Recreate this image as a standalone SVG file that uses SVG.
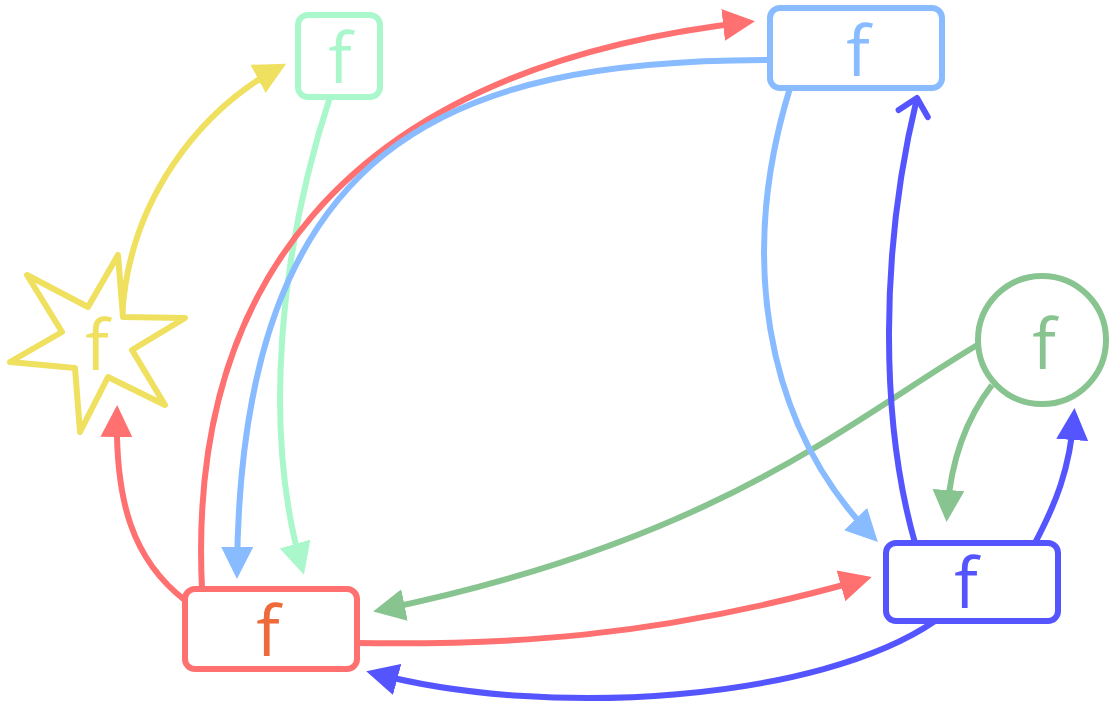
<svg xmlns="http://www.w3.org/2000/svg" width="1112" height="717" viewBox="0 0 1112 717">
<style>
.node{fill:#fff;stroke-width:6}
.lbl{font-family:"Open Sans","Noto Sans",sans-serif;font-size:70px;text-anchor:middle}
.c{fill:none;stroke-width:6}
</style>
<defs>
<marker id="aRed" markerUnits="userSpaceOnUse" viewBox="0 0 32 32" markerWidth="32" markerHeight="32" refX="25" refY="16" orient="auto"><path d="M0,0 L32,16 L0,32 z" fill="#ff7070"/></marker>
<marker id="aLB" markerUnits="userSpaceOnUse" viewBox="0 0 32 32" markerWidth="32" markerHeight="32" refX="25" refY="16" orient="auto"><path d="M0,0 L32,16 L0,32 z" fill="#88bbff"/></marker>
<marker id="aMint" markerUnits="userSpaceOnUse" viewBox="0 0 32 32" markerWidth="32" markerHeight="32" refX="25" refY="16" orient="auto"><path d="M0,0 L32,16 L0,32 z" fill="#aaf7cc"/></marker>
<marker id="aYel" markerUnits="userSpaceOnUse" viewBox="0 0 32 32" markerWidth="32" markerHeight="32" refX="25" refY="16" orient="auto"><path d="M0,0 L32,16 L0,32 z" fill="#f0e060"/></marker>
<marker id="aGrn" markerUnits="userSpaceOnUse" viewBox="0 0 32 32" markerWidth="32" markerHeight="32" refX="25" refY="16" orient="auto"><path d="M0,0 L32,16 L0,32 z" fill="#88c490"/></marker>
<marker id="aDB" markerUnits="userSpaceOnUse" viewBox="0 0 32 32" markerWidth="32" markerHeight="32" refX="25" refY="16" orient="auto"><path d="M0,0 L32,16 L0,32 z" fill="#5555ff"/></marker>
<marker id="oDB" markerUnits="userSpaceOnUse" viewBox="-20 -20 40 40" markerWidth="40" markerHeight="40" refX="0" refY="0" orient="auto"><path d="M-16,-15 L0,0 L-16,15" fill="none" stroke="#5555ff" stroke-width="6" stroke-linecap="round" stroke-linejoin="round"/></marker>
</defs>
<g id="connectors">
<path class="c" stroke="#f0e060" d="M122,318 C128,200 200,110 280,67" marker-end="url(#aYel)"/>
<path class="c" stroke="#aaf7cc" d="M330,97 C280,250 262,430 302,568" marker-end="url(#aMint)"/>
<path class="c" stroke="#ff7070" d="M202,589 C188,300 330,70 748,22" marker-end="url(#aRed)"/>
<path class="c" stroke="#88bbff" d="M770,60 C450,60 240,140 237,572" marker-end="url(#aLB)"/>
<path class="c" stroke="#ff7070" d="M186,601 C132,560 115,500 117,412" marker-end="url(#aRed)"/>
<path class="c" stroke="#ff7070" d="M357,643 C500,645 650,640 865,579" marker-end="url(#aRed)"/>
<path class="c" stroke="#5555ff" d="M935,621 C820,700 550,720 373,673" marker-end="url(#aDB)"/>
<path class="c" stroke="#88c490" d="M979,344 C850,420 720,540 380,610" marker-end="url(#aGrn)"/>
<path class="c" stroke="#88c490" d="M992,385 C965,420 950,465 947,515" marker-end="url(#aGrn)"/>
<path class="c" stroke="#88bbff" d="M790,88 C740,250 760,420 873,537" marker-end="url(#aLB)"/>
<path class="c" stroke="#5555ff" d="M915,543 C880,420 880,250 917,98" marker-end="url(#oDB)"/>
<path class="c" stroke="#5555ff" d="M1035,543 C1055,505 1070,470 1074,415" marker-end="url(#aDB)"/>
</g>
<g id="star">
<polygon class="node" stroke="#f0e060" stroke-linejoin="round" fill="none" points="118,255 123,317 185,318 132,350 165,405 108,377 80,432 75,368 10,362 62,332 27,275 88,307"/>
<text class="lbl" x="97" y="370" fill="#f0e060">f</text>
</g>
<g id="mint">
<rect class="node" stroke="#aaf7cc" x="298" y="15" width="82" height="82" rx="10"/>
<text class="lbl" x="340" y="83" fill="#aaf7cc">f</text>
</g>
<g id="lightblue">
<rect class="node" stroke="#88bbff" x="770" y="8" width="172" height="80" rx="10"/>
<text class="lbl" x="858" y="76" fill="#88bbff">f</text>
</g>
<g id="green">
<circle class="node" stroke="#88c490" cx="1042" cy="340" r="64"/>
<text class="lbl" x="1044" y="369" fill="#88c490">f</text>
</g>
<g id="darkblue">
<rect class="node" stroke="#5555ff" x="886" y="543" width="172" height="78" rx="10"/>
<text class="lbl" x="966" y="608" fill="#5555ff">f</text>
</g>
<g id="red">
<rect class="node" stroke="#ff7070" x="185" y="589" width="172" height="80" rx="10"/>
<text class="lbl" x="268" y="656" fill="#ee6a3a">f</text>
</g>
</svg>
